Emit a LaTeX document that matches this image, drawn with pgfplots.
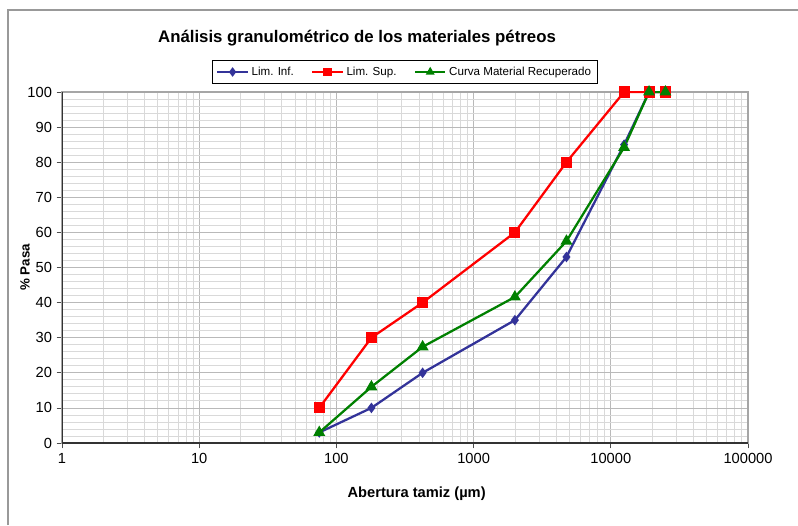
\documentclass[border=0pt]{standalone}
\usepackage{pgfplots}
\pgfplotsset{compat=1.18}
\usepackage{fontspec}
\setmainfont{Liberation Sans}
\definecolor{cinf}{RGB}{51,51,153}
\definecolor{csup}{RGB}{255,0,0}
\definecolor{ccur}{RGB}{0,128,0}
\begin{document}
\begin{tikzpicture}
\begin{scope}[x=0.75pt,y=0.75pt]
\useasboundingbox (0,0) rectangle (798,525);
\draw[gray!80, line width=0.9pt] (8,0) -- (8,515) -- (798,515);
\node[font=\bfseries\fontsize{12.6}{15}\selectfont] at (357,487) {Análisis granulométrico de los materiales pétreos};
\end{scope}
\begin{axis}[
  at={(46.5pt,61.5pt)}, anchor=south west, scale only axis,
  width=514.5pt, height=263.25pt,
  xmode=log, log basis x=10,
  xmin=1, xmax=100000, ymin=0, ymax=100,
  xtick={1,10,100,1000,10000,100000},
  xticklabels={1,10,100,1000,10000,100000},
  minor xtick={2,3,4,5,6,7,8,9,20,30,40,50,60,70,80,90,200,300,400,500,600,700,800,900,2000,3000,4000,5000,6000,7000,8000,9000,20000,30000,40000,50000,60000,70000,80000,90000},
  ytick={0,10,...,100},
  minor ytick={2,4,...,98},
  xtick pos=bottom, ytick pos=left,
  grid=both,
  major grid style={gray!55, line width=0.6pt},
  minor grid style={gray!30, line width=0.6pt},
  tick align=outside, major tick length=4pt, minor tick length=0pt,
  tick style={gray!60!black, line width=0.6pt},
  axis line style={gray!70, line width=0.8pt},
  ticklabel style={font=\fontsize{11}{13}\selectfont},
  /pgf/number format/assume math mode=true,
  xlabel={Abertura tamiz (µm)}, ylabel={\% Pasa},
  xlabel style={font=\bfseries\fontsize{11}{13}\selectfont, at={(axis description cs:0.517,-0.145)}, anchor=center},
  ylabel style={font=\bfseries\fontsize{10}{12}\selectfont, at={(axis description cs:-0.054,0.5)}, anchor=center},
  legend columns=3,
  legend image code/.code={\draw[mark repeat=2,mark phase=2,mark size=2.2pt] plot coordinates {(0cm,0cm) (0.4cm,0cm) (0.8cm,0cm)};},
  legend style={at={(axis description cs:0.5,1.057)}, anchor=center, draw=black, line width=0.6pt,
    font=\fontsize{8.7}{11}\selectfont, inner sep=3pt,
    /tikz/every even column/.append style={column sep=11pt}},
]
\draw[gray!40!black, line width=0.8pt] (rel axis cs:0,1) -- (rel axis cs:0,0) -- (rel axis cs:1,0);
\addplot[color=cinf, line width=1.7pt, mark=diamond*, mark size=2.6pt] coordinates {
 (75,3) (180,10) (425,20) (2000,35) (4750,53) (12500,85) (19000,100) (25000,100)};
\addlegendentry{Lim. Inf.}
\addplot[color=csup, line width=1.7pt, mark=square*, mark size=3.3pt] coordinates {
 (75,10) (180,30) (425,40) (2000,60) (4750,80) (12500,100) (19000,100) (25000,100)};
\addlegendentry{Lim. Sup.}
\addplot[color=ccur, line width=1.7pt, mark=triangle*, mark size=3.5pt] coordinates {
 (75,3) (180,16) (425,27.4) (2000,41.6) (4750,57.5) (12500,84.2) (19000,100) (25000,100)};
\addlegendentry{Curva Material Recuperado}
\end{axis}
\end{tikzpicture}
\end{document}
